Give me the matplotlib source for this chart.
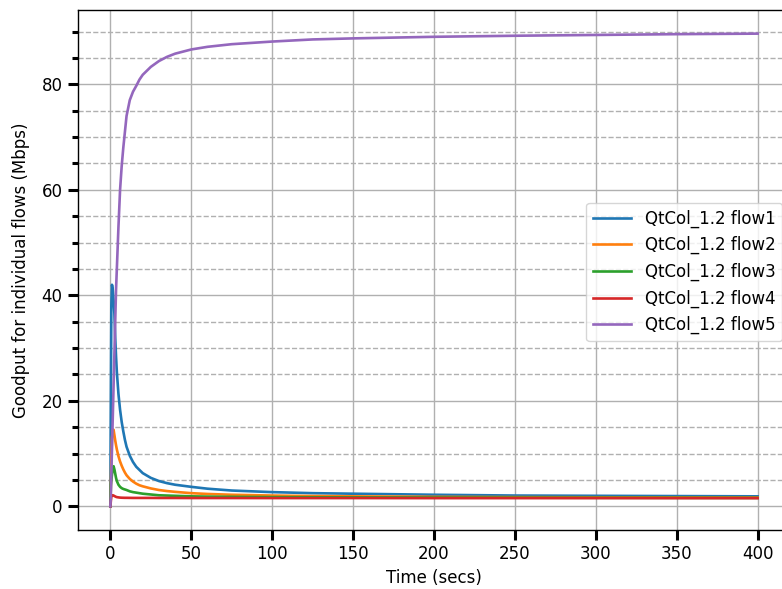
import numpy as np
import matplotlib
matplotlib.use("Agg")
import matplotlib.pyplot as plt
from matplotlib.ticker import MultipleLocator

# sample times (secs) and per-flow goodput (Mbps)
time_s = [0, 0.3, 0.6, 1, 1.5, 2, 2.5, 3, 3.5, 4, 5, 6, 7, 8, 9, 10, 12, 14,
          16, 18, 20, 25, 30, 35, 40, 50, 60, 75, 100, 125, 150, 200, 250,
          300, 350, 400]

flow1 = [0, 20, 38, 42, 41, 39, 36.5, 32, 28.5, 25.5, 21.3, 18.3, 16, 14.2,
         12.6, 11.3, 9.6, 8.4, 7.5, 6.9, 6.3, 5.4, 4.8, 4.4, 4.1, 3.7, 3.35,
         3.0, 2.7, 2.5, 2.4, 2.2, 2.05, 2.0, 1.95, 1.9]
flow2 = [0, 4, 9, 13, 14.6, 14.5, 13.5, 12.5, 11.6, 10.8, 9.5, 8.5, 7.7, 7.0,
         6.4, 5.9, 5.2, 4.7, 4.3, 4.0, 3.8, 3.4, 3.1, 2.9, 2.75, 2.5, 2.35,
         2.2, 2.05, 1.95, 1.9, 1.8, 1.75, 1.72, 1.7, 1.68]
flow3 = [0, 4, 5, 6, 7.2, 7.6, 7.0, 6.2, 5.4, 4.8, 4.1, 3.7, 3.45, 3.3, 3.2,
         3.1, 2.85, 2.7, 2.6, 2.5, 2.4, 2.25, 2.1, 2.05, 2.0, 1.9, 1.85, 1.8,
         1.75, 1.72, 1.7, 1.67, 1.65, 1.63, 1.62, 1.6]
flow4 = [0, 1, 1.8, 2.1, 2.1, 2.05, 1.95, 1.88, 1.8, 1.75, 1.7, 1.66, 1.64,
         1.63, 1.62, 1.62, 1.61, 1.6, 1.6, 1.6, 1.6, 1.6, 1.59, 1.59, 1.59,
         1.58, 1.58, 1.58, 1.57, 1.57, 1.57, 1.56, 1.56, 1.56, 1.55, 1.55]
flow5 = [0, 2, 6, 11, 17, 23, 29, 35, 41, 45, 53, 60, 64.5, 68, 71, 74, 77,
         78.6, 79.7, 80.9, 81.8, 83.3, 84.4, 85.2, 85.8, 86.6, 87.1, 87.6,
         88.1, 88.5, 88.7, 89.0, 89.2, 89.35, 89.5, 89.6]

flows = [flow1, flow2, flow3, flow4, flow5]
labels = ["QtCol_1.2 flow%d" % (i + 1) for i in range(len(flows))]

plt.rcParams['font.family'] = 'DejaVu Sans'

fig = plt.figure(figsize=(7.82, 5.89), dpi=100)
ax = fig.add_axes([78 / 782, 59 / 589, 712 / 782, 520 / 589])

for vals, lab in zip(flows, labels):
    ax.plot(time_s, vals, lw=1.9, label=lab)

ax.xaxis.set_major_locator(MultipleLocator(50))
ax.yaxis.set_major_locator(MultipleLocator(20))
ax.yaxis.set_minor_locator(MultipleLocator(5))

ax.grid(which='major', color='#b0b0b0', lw=1.0, ls='-')
ax.grid(which='minor', axis='y', color='#b0b0b0', lw=1.0, ls='--')

ax.tick_params(which='major', length=7.5, width=2.2, labelsize=12)
ax.tick_params(which='minor', length=4.5, width=2.2)
for sp in ax.spines.values():
    sp.set_linewidth(1.0)

ax.set_xlabel('Time (secs)', fontsize=12)
ax.set_ylabel('Goodput for individual flows (Mbps)', fontsize=12, labelpad=8)

ax.legend(loc='upper right', bbox_to_anchor=(0.989, 0.629), borderaxespad=0,
          fontsize=12, handlelength=2.3)

fig.savefig('out.png', dpi=100)
